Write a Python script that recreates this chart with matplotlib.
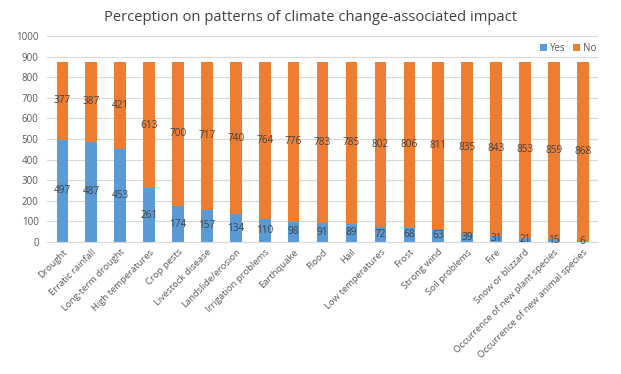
import matplotlib
matplotlib.use("Agg")
import matplotlib.pyplot as plt
import numpy as np

categories = ["Drought", "Erratic rainfall", "Long-term drought", "High temperatures",
              "Crop pests", "Livestock disease", "Landslide/erosion", "Irrigation problems",
              "Earthquake", "Flood", "Hail", "Low temperatures", "Frost", "Strong wind",
              "Soil problems", "Fire", "Snow or blizzard", "Occurrence of new plant species",
              "Occurrence of new animal species"]
yes_vals = [497, 487, 453, 261, 174, 157, 134, 110, 98, 91, 89, 72, 68, 63, 39, 31, 21, 15, 6]
no_vals = [377, 387, 421, 613, 700, 717, 740, 764, 776, 783, 785, 802, 806, 811, 835, 843, 853, 859, 868]
yticks = [0, 100, 200, 300, 400, 500, 600, 700, 800, 900, 1000]

plt.rcParams['font.family'] = ['Open Sans', 'DejaVu Sans']

fig = plt.figure(figsize=(6.21, 3.74), dpi=100)
ax = fig.add_axes([0.0757, 0.353, 0.887, 0.551])

x = np.arange(len(categories))
blue = "#5B9BD5"
orange = "#ED7D31"
w = 0.40
ax.bar(x, yes_vals, width=w, color=blue, label="Yes", zorder=2)
ax.bar(x, no_vals, width=w, bottom=yes_vals, color=orange, label="No", zorder=2)

txt = "#404040"
for xi, yv, nv in zip(x, yes_vals, no_vals):
    ax.text(xi, yv / 2, str(yv), ha="center", va="center", fontsize=7.2, color=txt, zorder=3)
    ax.text(xi, yv + nv / 2, str(nv), ha="center", va="center", fontsize=7.2, color=txt, zorder=3)

ax.set_xlim(-0.53, len(categories) - 0.48)
ax.set_ylim(0, 1000)
ax.set_yticks(yticks)
ax.set_yticklabels([str(t) for t in yticks], fontsize=7, color="#595959")
ax.yaxis.grid(True, color="#D9D9D9", linewidth=0.8, zorder=0)
ax.set_axisbelow(True)
ax.tick_params(axis="y", length=0, pad=6)
ax.tick_params(axis="x", length=0, pad=4)
ax.set_xticks(x)
ax.set_xticklabels(categories, rotation=45, ha="right", rotation_mode="anchor",
                   fontsize=6.8, color="#595959")
for s in ["top", "right", "left"]:
    ax.spines[s].set_visible(False)
ax.spines["bottom"].set_color("#D9D9D9")

fig.text(0.5, 0.952, "Perception on patterns of climate change-associated impact",
         ha="center", va="center", fontsize=10.6, color="#404040")

leg = ax.legend(loc="upper right", bbox_to_anchor=(1.01, 1.0), ncol=2, frameon=False,
                fontsize=7, handlelength=0.7, handleheight=0.7, columnspacing=0.8,
                handletextpad=0.3, labelcolor="#595959", borderaxespad=0.3)

fig.savefig("out.png", dpi=100)
